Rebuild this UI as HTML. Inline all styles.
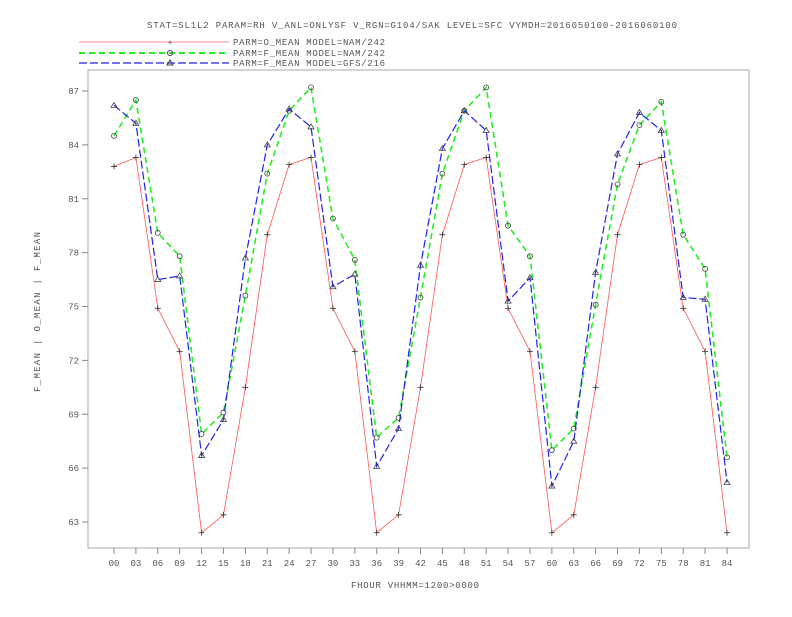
<!DOCTYPE html>
<html><head><meta charset="utf-8"><style>
html,body{margin:0;padding:0;background:#fff;}
svg text{font-family:"Liberation Mono",monospace;font-size:9px;fill:#555;}
</style></head><body>
<svg id="chart" width="792" height="612" xmlns="http://www.w3.org/2000/svg">
<text x="412" y="28" text-anchor="middle" textLength="530">STAT=SL1L2 PARAM=RH V_ANL=ONLYSF V_RGN=G104/SAK LEVEL=SFC VYMDH=2016050100-2016060100</text>
<g>
<line x1="79" y1="42" x2="229" y2="42" stroke="#f88" stroke-width="1"/>
<text x="170" y="45" text-anchor="middle" style="font-size:8px">+</text>
<text x="233" y="45" textLength="152">PARM=O_MEAN MODEL=NAM/242</text>
<line x1="79" y1="53" x2="229" y2="53" stroke="#2e2" stroke-width="2" stroke-dasharray="6,4"/>
<circle cx="170" cy="53" r="2.5" fill="none" stroke="#444"/>
<text x="233" y="56" textLength="152">PARM=F_MEAN MODEL=NAM/242</text>
<line x1="79" y1="63" x2="229" y2="63" stroke="#22e" stroke-width="1.3" stroke-dasharray="8,3"/>
<path d="M167,65 L170,60 L173,65 Z" fill="none" stroke="#444"/>
<text x="233" y="66" textLength="152">PARM=F_MEAN MODEL=GFS/216</text>
</g>
<rect x="88" y="70" width="661" height="478" fill="none" stroke="#aaa"/>
<g id="axes"></g>
<g id="series"></g>
<text x="415" y="588" text-anchor="middle" textLength="128">FHOUR VHHMM=1200&gt;0000</text>
<text transform="translate(40,312) rotate(-90)" text-anchor="middle" textLength="160">F_MEAN | O_MEAN | F_MEAN</text>
</svg>
<script>
const categories=["00","03","06","09","12","15","18","21","24","27","30","33","36","39","42","45","48","51","54","57","60","63","66","69","72","75","78","81","84"];
const yTicks=[63,66,69,72,75,78,81,84,87];
const yTickLabels=["63","66","69","72","75","78","81","84","87"];
const oMeanNam=[82.8,83.3,74.9,72.5,62.4,63.4,70.5,79.0,82.9,83.3,74.9,72.5,62.4,63.4,70.5,79.0,82.9,83.3,74.9,72.5,62.4,63.4,70.5,79.0,82.9,83.3,74.9,72.5,62.4];
const fMeanNam=[84.5,86.5,79.1,77.8,67.9,69.1,75.6,82.4,85.9,87.2,79.9,77.6,67.7,68.8,75.5,82.4,85.9,87.2,79.5,77.8,67.0,68.2,75.1,81.8,85.1,86.4,79.0,77.1,66.6];
const fMeanGfs=[86.2,85.2,76.5,76.7,66.7,68.7,77.7,84.0,86.0,85.0,76.1,76.8,66.1,68.2,77.3,83.8,85.9,84.8,75.3,76.6,65.0,67.5,76.9,83.5,85.8,84.8,75.5,75.4,65.2];
const NS="http://www.w3.org/2000/svg";
function xs(i){return 114+i*(727-114)/(categories.length-1);}
function ys(v){return 91+(87-v)*(522-91)/24;}
const axes=document.getElementById('axes');
function mk(tag,attrs,parent){const e=document.createElementNS(NS,tag);for(const k in attrs)e.setAttribute(k,attrs[k]);parent.appendChild(e);return e;}
yTicks.forEach((v,i)=>{
 const t=mk('line',{x1:82,x2:88,y1:ys(v),y2:ys(v),stroke:'#888'},axes);
 
 
 const l=mk('text',{x:79,y:ys(v)+3,'text-anchor':'end'},axes);
 l.textContent=yTickLabels[i];
 
 
});
categories.forEach((c,i)=>{
 const t=mk('line',{x1:xs(i),x2:xs(i),y1:548,y2:554,stroke:'#888'},axes);
 
 
 const l=mk('text',{x:xs(i),y:566,'text-anchor':'middle'},axes);
 l.textContent=c;
 
 
});
const ser=document.getElementById('series');
function draw(vals,color,w,dash,marker,name){
 const pts=vals.map((v,i)=>xs(i).toFixed(1)+','+ys(v).toFixed(1)).join(' ');
 const p=mk('polyline',{points:pts,fill:'none',stroke:color,'stroke-width':w},ser);
 if(dash)p.setAttribute('stroke-dasharray',dash);
 
 
 vals.forEach((v,i)=>{
  const x=xs(i),y=ys(v);let m;
  if(marker==='plus')m=mk('path',{d:`M${x-3},${y}H${x+3}M${x},${y-3}V${y+3}`,stroke:'#333','stroke-width':0.8},ser);
  else if(marker==='circle')m=mk('circle',{cx:x,cy:y,r:2.5,fill:'none',stroke:'#444','stroke-width':0.8},ser);
  else m=mk('path',{d:`M${x-3},${y+2} L${x},${y-3} L${x+3},${y+2} Z`,fill:'none',stroke:'#444','stroke-width':0.8},ser);
  
  
 });
}
draw(oMeanNam,'#f55',0.8,null,'plus','o-mean-nam');
draw(fMeanNam,'#2e2',1.6,'6,4','circle','f-mean-nam');
draw(fMeanGfs,'#22e',1.2,'8,3','triangle','f-mean-gfs');
</script>
</body></html>
